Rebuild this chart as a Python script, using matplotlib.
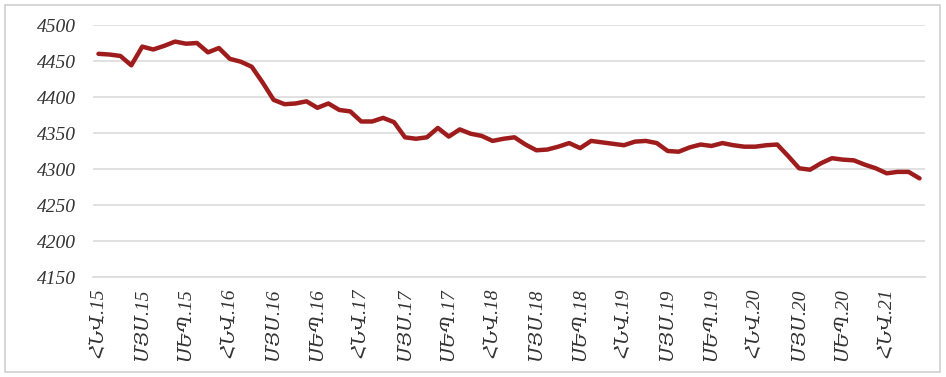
import numpy as np
import matplotlib.pyplot as plt
from matplotlib.patches import Rectangle

# monthly values, Jan 2015 .. Apr 2021
values = [4460, 4459, 4457, 4444, 4470, 4466, 4471, 4477, 4474, 4475,
          4462, 4468, 4453, 4449, 4442, 4420, 4396, 4390, 4391, 4394,
          4385, 4391, 4382, 4380, 4366, 4366, 4371, 4365, 4344, 4342,
          4344, 4357, 4345, 4355, 4349, 4346, 4339, 4342, 4344, 4334,
          4326, 4327, 4331, 4336, 4329, 4339, 4337, 4335, 4333, 4338,
          4339, 4336, 4325, 4324, 4330, 4334, 4332, 4336, 4333, 4331,
          4331, 4333, 4334, 4318, 4301, 4299, 4308, 4315, 4313, 4312,
          4306, 4301, 4294, 4296, 4296, 4287]

months = ['ՀՆՎ', 'ՄՅՍ', 'ՍԵՊ']
years = ['15', '16', '17', '18', '19', '20', '21']
tick_labels = [m + '.' + y for y in years for m in months][:19]
tick_pos = list(range(0, 76, 4))

y_ticks = [4150, 4200, 4250, 4300, 4350, 4400, 4450, 4500]

fnt = ['Liberation Serif', 'DejaVu Serif', 'DejaVu Sans']

fig = plt.figure(figsize=(9.46, 3.77), dpi=100)
ax = fig.add_axes([93/946, 1-277/377, (925-93)/946, 252/377])

x = np.arange(len(values))
ax.plot(x, values, color='#9e1c1c', lw=3.2, solid_joinstyle='round',
        solid_capstyle='round', zorder=3)

ax.set_xlim(-0.5, len(values) - 0.5)
ax.set_ylim(4150, 4500)
ax.set_yticks(y_ticks)
ax.set_yticklabels([str(v) for v in y_ticks], family=fnt, style='italic',
                   fontsize=14, color='#333333')
ax.set_xticks(tick_pos)
ax.set_xticklabels(tick_labels, rotation=90, family=fnt, style='italic',
                   fontsize=14, color='#333333')
ax.tick_params(length=0, pad=8)
ax.tick_params(axis='y', pad=12)

ax.grid(axis='y', color='#dcdcdc', lw=1.2)
ax.axhline(4150, color='#dcdcdc', lw=1.2, clip_on=False)
for s in ax.spines.values():
    s.set_visible(False)

# chart border
fig.patches.append(Rectangle((5/946, 5/377), 935/946, 367/377, transform=fig.transFigure,
                             fill=False, edgecolor='#d0d0d0', lw=1.2))

fig.savefig('out.png', dpi=100)
